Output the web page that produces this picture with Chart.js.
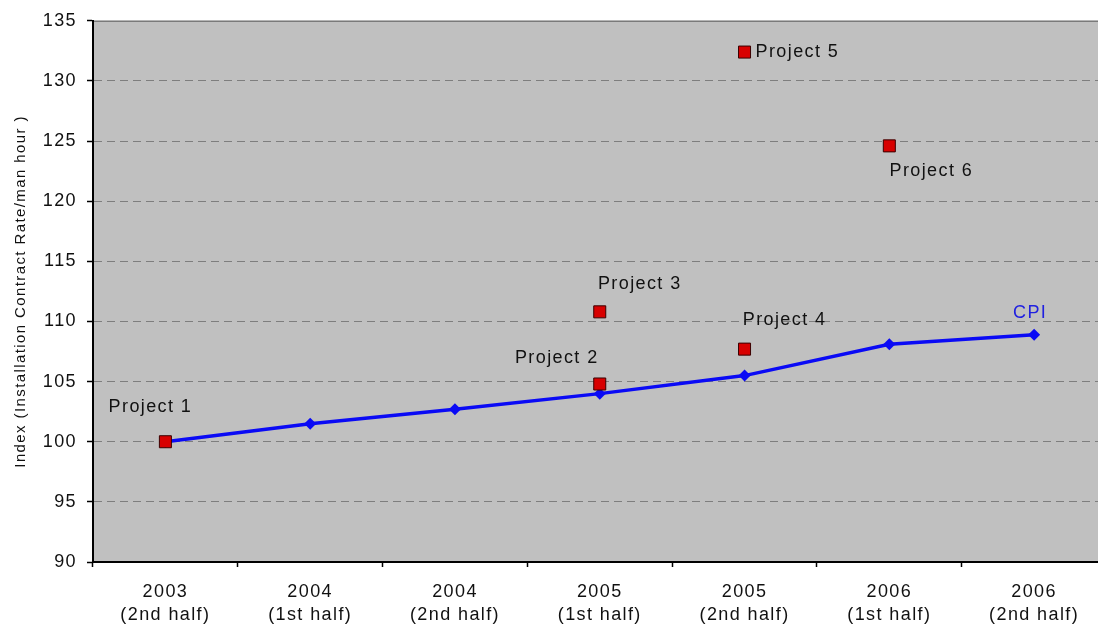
<!DOCTYPE html>
<html>
<head>
<meta charset="utf-8">
<script src="https://cdn.jsdelivr.net/npm/chart.js@4/dist/chart.umd.min.js"></script>
<style>
  html, body { margin: 0; padding: 0; background: #fff; overflow: hidden; }
  #wrap { width: 1098px; height: 629px; overflow: hidden; }
</style>
</head>
<body>
<div id="wrap"><canvas id="chart" width="1116" height="629"></canvas></div>
<script>
// Half-year periods along the x axis
const periods = [
  ['2003', '(2nd half)'],
  ['2004', '(1st half)'],
  ['2004', '(2nd half)'],
  ['2005', '(1st half)'],
  ['2005', '(2nd half)'],
  ['2006', '(1st half)'],
  ['2006', '(2nd half)']
];

// Consumer price index, rebased to 100
const cpiValues = [100, 101.5, 102.7, 104.0, 105.5, 108.1, 108.9];

// Installation contract rate per man hour, by project
const projectNames = ['Project 1', 'Project 2', 'Project 3', 'Project 4', 'Project 5', 'Project 6'];
const projectPeriodIndex = [0, 3, 3, 4, 4, 5];
const projectValues = [100, 104.8, 110.8, 107.7, 132.4, 124.6];

// Value axis range
const yMin = 90;
const yMax = 135;
const yStep = 5;

const FONT = '"Liberation Sans", Arial, Helvetica, sans-serif';
const TEXT = '#111';
const SPACING = '1.4px';

// Where each text label sits relative to its marker (px)
const projectLabelOffsets = [
  { dx: -15, dy: -35, align: 'center' },
  { dx: -43, dy: -26, align: 'center' },
  { dx: 40, dy: -28, align: 'center' },
  { dx: 40, dy: -29, align: 'center' },
  { dx: 11, dy: 0, align: 'left' },
  { dx: 42, dy: 25, align: 'center' }
];

// Slightly wide letter spacing for every text drawn on the canvas
const textSpacing = {
  id: 'textSpacing',
  beforeUpdate(chart) { chart.ctx.letterSpacing = SPACING; },
  beforeDraw(chart) { chart.ctx.letterSpacing = SPACING; }
};

// Grey plot area with a solid rule along its top edge
const plotArea = {
  id: 'plotArea',
  beforeDraw(chart) {
    const { ctx, chartArea: a } = chart;
    ctx.save();
    ctx.fillStyle = '#c0c0c0';
    ctx.fillRect(a.left, a.top, a.right - a.left, a.bottom - a.top);
    ctx.strokeStyle = '#7a7a7a';
    ctx.lineWidth = 1.5;
    ctx.beginPath();
    ctx.moveTo(a.left, a.top + 0.5);
    ctx.lineTo(a.right, a.top + 0.5);
    ctx.stroke();
    ctx.restore();
  }
};

// Project names next to the markers, and the CPI series name
const pointLabels = {
  id: 'pointLabels',
  afterDatasetsDraw(chart) {
    const { ctx } = chart;
    ctx.save();
    ctx.letterSpacing = SPACING;
    ctx.font = '18px ' + FONT;
    ctx.textBaseline = 'middle';
    const projMeta = chart.getDatasetMeta(1);
    projMeta.data.forEach((pt, i) => {
      const o = projectLabelOffsets[i];
      ctx.fillStyle = TEXT;
      ctx.textAlign = o.align;
      ctx.fillText(projectNames[i], pt.x + o.dx, pt.y + o.dy);
    });
    const cpiMeta = chart.getDatasetMeta(0);
    const last = cpiMeta.data[cpiMeta.data.length - 1];
    ctx.fillStyle = '#2020e0';
    ctx.textAlign = 'center';
    ctx.fillText('CPI', last.x - 4, last.y - 22);
    ctx.restore();
  }
};

new Chart(document.getElementById('chart'), {
  data: {
    labels: periods,
    datasets: [
      {
        type: 'line',
        label: 'CPI',
        data: cpiValues,
        borderColor: '#0a0af5',
        backgroundColor: '#0a0af5',
        borderWidth: 3.5,
        pointStyle: 'rectRot',
        pointRadius: 6,
        pointBorderWidth: 0,
        tension: 0,
        order: 2
      },
      {
        type: 'line',
        label: 'Projects',
        parsing: false,
        showLine: false,
        data: projectValues.map((v, i) => ({ x: projectPeriodIndex[i], y: v })),
        pointStyle: 'rect',
        pointRadius: 8.5,
        backgroundColor: '#d80000',
        borderColor: '#3a0000',
        pointBorderWidth: 1,
        order: 1
      }
    ]
  },
  options: {
    responsive: false,
    devicePixelRatio: 1,
    animation: false,
    events: [],
    layout: { padding: { top: 20, right: 1, left: 0, bottom: 0 } },
    plugins: {
      legend: { display: false },
      tooltip: { enabled: false }
    },
    scales: {
      x: {
        type: 'category',
        offset: true,
        grid: {
          offset: true,
          drawOnChartArea: false,
          drawTicks: true,
          tickLength: 5,
          tickColor: '#000',
          tickWidth: 1.5
        },
        border: { color: '#000', width: 2 },
        ticks: {
          color: TEXT,
          font: { family: FONT, size: 18, lineHeight: 1.3 },
          padding: 13,
          maxRotation: 0,
          autoSkip: false
        },
        afterFit(scale) { scale.height = 67; }
      },
      y: {
        min: yMin,
        max: yMax,
        grid: {
          color: (c) => (c.tick && (c.tick.value === yMin || c.tick.value === yMax)) ? 'rgba(0,0,0,0)' : '#7e7e7e',
          lineWidth: 1,
          drawTicks: true,
          tickLength: 6,
          tickColor: '#000',
          tickWidth: 1.5
        },
        border: { color: '#000', width: 2, dash: [8, 5] },
        ticks: {
          stepSize: yStep,
          color: TEXT,
          font: { family: FONT, size: 18 },
          padding: 10
        },
        title: {
          display: true,
          text: 'Index (Installation Contract Rate/man hour )',
          color: TEXT,
          font: { family: FONT, size: 15 },
          padding: { top: 12, bottom: 0 }
        },
        afterFit(scale) { scale.width = 93; }
      }
    }
  },
  plugins: [textSpacing, plotArea, pointLabels]
});
</script>
</body>
</html>
